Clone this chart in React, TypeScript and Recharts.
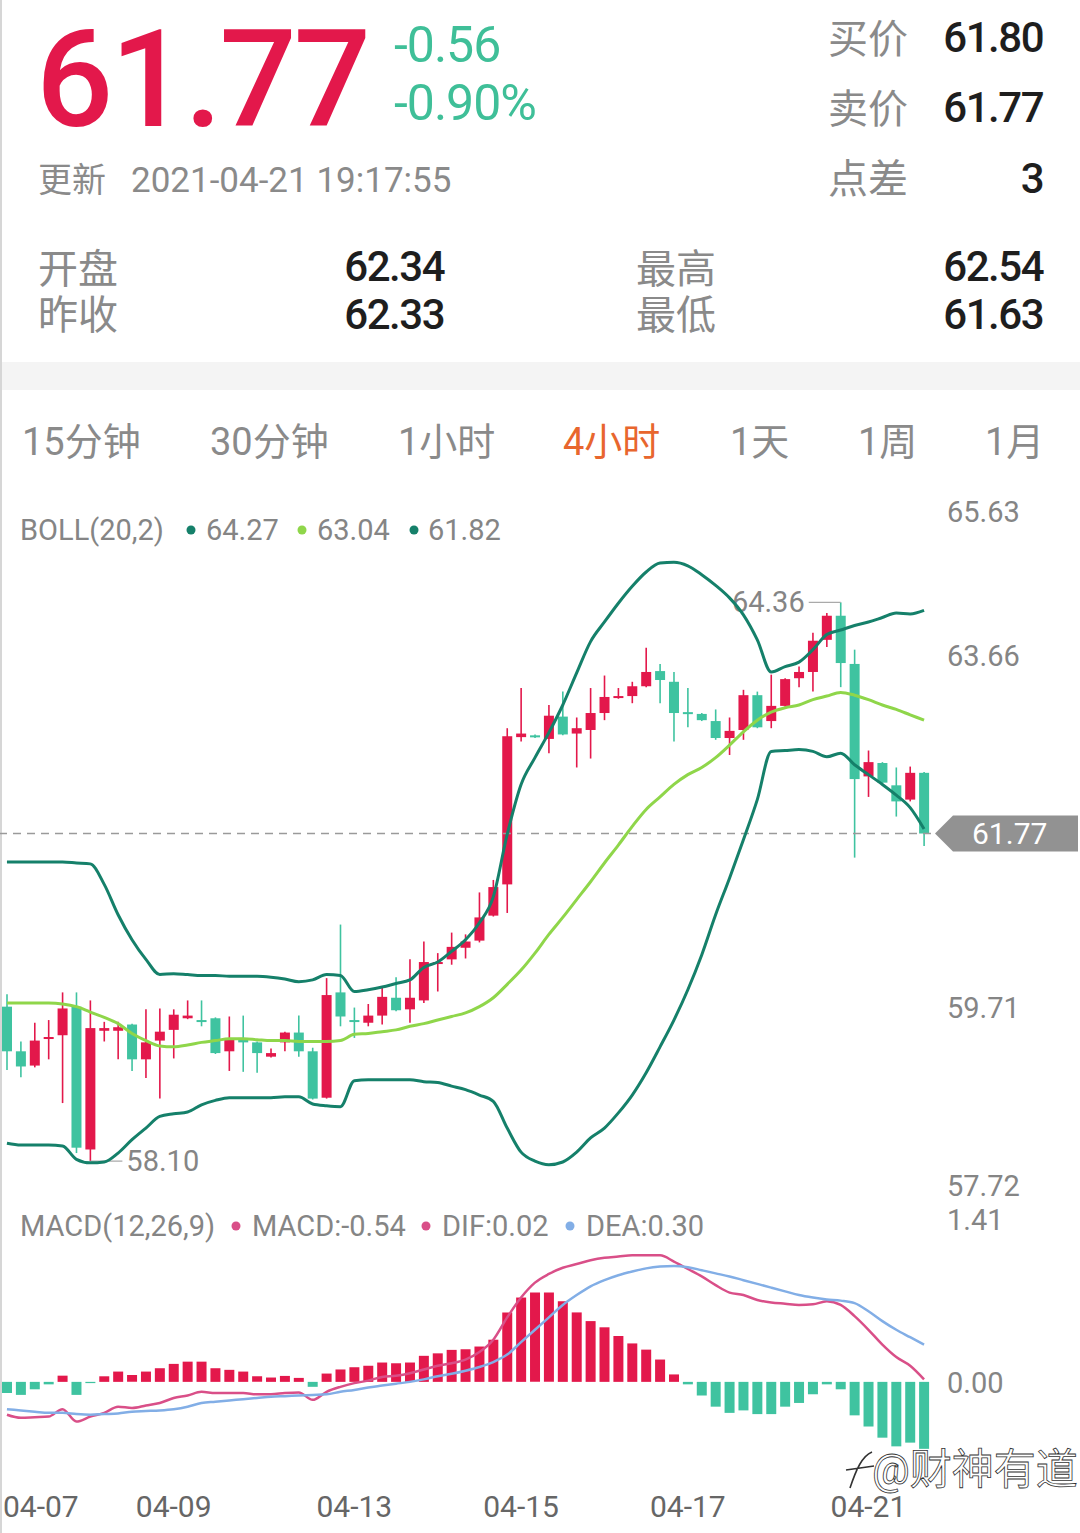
import React from "react";
import {
  ComposedChart,
  Bar,
  Line,
  XAxis,
  YAxis,
  ReferenceLine,
  Cell,
} from "recharts";

// 4h candles, 04-07 .. 04-21
const opens = [59.83, 59.33, 59.17, 59.47, 59.51, 59.83, 58.23, 59.56, 59.56, 59.63, 59.24, 59.45, 59.57, 59.7, 59.68, 59.7, 59.33, 59.48, 59.43, 59.27, 59.43, 59.54, 59.33, 58.81, 59.99, 59.68, 59.65, 59.73, 59.93, 59.8, 59.9, 60.32, 60.36, 60.49, 60.57, 60.85, 61.2, 62.85, 62.87, 62.83, 63.08, 62.89, 62.93, 63.12, 63.29, 63.31, 63.42, 63.59, 63.47, 63.13, 63.11, 63.03, 62.84, 62.93, 63.32, 63.03, 63.2, 63.51, 63.58, 63.94, 64.21, 63.67, 62.41, 62.56, 62.31, 62.15, 62.45];
const highs = [59.97, 59.44, 59.65, 59.68, 59.99, 59.99, 59.9, 59.66, 59.66, 59.64, 59.8, 59.81, 59.8, 59.9, 59.9, 59.71, 59.72, 59.73, 59.44, 59.36, 59.55, 59.73, 59.37, 60.15, 60.75, 59.82, 59.86, 60.04, 60.16, 60.36, 60.56, 60.43, 60.66, 60.64, 61.11, 61.25, 62.95, 63.4, 62.88, 63.21, 63.36, 63.07, 63.4, 63.54, 63.4, 63.47, 63.85, 63.67, 63.58, 63.4, 63.12, 63.16, 63.07, 63.38, 63.36, 63.55, 63.51, 63.64, 64.02, 64.24, 64.36, 63.83, 62.7, 62.57, 62.51, 62.52, 62.46];
const lows = [59.12, 59.04, 59.15, 59.24, 58.75, 58.19, 58.1, 59.44, 59.24, 59.11, 59.03, 58.8, 59.25, 59.69, 59.61, 59.3, 59.11, 59.1, 59.09, 59.26, 59.33, 59.27, 58.79, 58.8, 59.61, 59.48, 59.61, 59.63, 59.78, 59.65, 59.87, 60.0, 60.3, 60.37, 60.55, 60.84, 60.88, 62.8, 62.84, 62.67, 62.87, 62.51, 62.61, 63.04, 63.28, 63.23, 63.41, 63.23, 62.8, 62.96, 63.03, 62.82, 62.65, 62.82, 62.95, 62.95, 63.19, 63.41, 63.36, 63.86, 63.41, 61.5, 62.18, 62.33, 61.96, 62.13, 61.63];
const closes = [59.33, 59.16, 59.45, 59.49, 59.81, 58.25, 59.59, 59.59, 59.6, 59.24, 59.43, 59.55, 59.74, 59.73, 59.66, 59.31, 59.47, 59.43, 59.31, 59.31, 59.54, 59.33, 58.8, 59.96, 59.72, 59.66, 59.73, 59.94, 59.79, 59.93, 60.33, 60.33, 60.5, 60.56, 60.83, 61.17, 62.86, 62.89, 62.85, 63.09, 62.88, 62.95, 63.12, 63.3, 63.31, 63.42, 63.58, 63.49, 63.12, 63.11, 63.04, 62.84, 62.92, 63.32, 62.96, 63.2, 63.5, 63.58, 63.93, 64.21, 63.68, 62.38, 62.57, 62.34, 62.13, 62.45, 61.77];

// BOLL(20,2)
const bollUpper = [61.45, 61.45, 61.45, 61.45, 61.45, 61.44, 61.43, 61.2, 60.86, 60.58, 60.36, 60.19, 60.2, 60.19, 60.18, 60.18, 60.17, 60.17, 60.17, 60.16, 60.14, 60.11, 60.13, 60.19, 60.18, 60.0, 60.02, 60.05, 60.09, 60.13, 60.27, 60.33, 60.45, 60.58, 60.77, 61.06, 61.76, 62.32, 62.62, 62.9, 63.21, 63.57, 63.92, 64.14, 64.35, 64.54, 64.7, 64.8, 64.81, 64.77, 64.67, 64.55, 64.41, 64.22, 63.94, 63.58, 63.64, 63.69, 63.83, 64.0, 64.05, 64.1, 64.14, 64.19, 64.24, 64.23, 64.27];
const bollMid = [59.87, 59.87, 59.87, 59.87, 59.86, 59.83, 59.77, 59.71, 59.64, 59.53, 59.45, 59.39, 59.38, 59.4, 59.43, 59.45, 59.47, 59.47, 59.46, 59.45, 59.45, 59.44, 59.44, 59.44, 59.45, 59.52, 59.53, 59.55, 59.57, 59.61, 59.64, 59.68, 59.72, 59.76, 59.83, 59.93, 60.08, 60.24, 60.43, 60.64, 60.83, 61.03, 61.23, 61.44, 61.64, 61.85, 62.04, 62.18, 62.32, 62.43, 62.51, 62.62, 62.76, 62.91, 63.04, 63.13, 63.18, 63.21, 63.27, 63.31, 63.35, 63.32, 63.27, 63.21, 63.16, 63.1, 63.04];
const bollLower = [58.3, 58.28, 58.28, 58.28, 58.27, 58.12, 58.08, 58.09, 58.19, 58.34, 58.47, 58.6, 58.63, 58.65, 58.73, 58.78, 58.81, 58.81, 58.81, 58.81, 58.82, 58.82, 58.74, 58.72, 58.71, 59.0, 59.01, 59.01, 59.01, 59.01, 58.99, 58.98, 58.94, 58.9, 58.84, 58.77, 58.47, 58.2, 58.1, 58.06, 58.09, 58.2, 58.36, 58.47, 58.64, 58.84, 59.09, 59.38, 59.68, 60.02, 60.41, 60.86, 61.27, 61.7, 62.15, 62.69, 62.7, 62.71, 62.69, 62.63, 62.67, 62.54, 62.43, 62.32, 62.2, 62.06, 61.82];

// MACD(12,26,9)
const macdHist = [-0.09, -0.105, -0.06, -0.02, 0.05, -0.105, -0.01, 0.045, 0.083, 0.055, 0.083, 0.11, 0.145, 0.163, 0.163, 0.11, 0.097, 0.083, 0.045, 0.035, 0.048, 0.032, -0.04, 0.067, 0.1, 0.118, 0.13, 0.156, 0.15, 0.156, 0.21, 0.23, 0.258, 0.263, 0.285, 0.34, 0.56, 0.68, 0.72, 0.72, 0.65, 0.56, 0.49, 0.44, 0.37, 0.31, 0.26, 0.18, 0.06, -0.02, -0.11, -0.2, -0.25, -0.23, -0.26, -0.26, -0.2, -0.17, -0.1, -0.02, -0.06, -0.27, -0.36, -0.45, -0.52, -0.49, -0.54];
const difLine = [-0.265, -0.29, -0.285, -0.28, -0.22, -0.32, -0.28, -0.25, -0.2, -0.21, -0.19, -0.17, -0.13, -0.11, -0.08, -0.09, -0.09, -0.09, -0.1, -0.1, -0.09, -0.085, -0.145, -0.08, -0.04, -0.01, 0.01, 0.04, 0.05, 0.07, 0.1, 0.13, 0.15, 0.18, 0.24, 0.34, 0.52, 0.68, 0.8, 0.87, 0.92, 0.95, 0.98, 1.0, 1.01, 1.02, 1.02, 1.02, 0.97, 0.91, 0.85, 0.78, 0.72, 0.7, 0.66, 0.64, 0.63, 0.62, 0.625, 0.65, 0.62, 0.53, 0.42, 0.3, 0.2, 0.13, 0.02];
const deaLine = [-0.22, -0.23, -0.24, -0.25, -0.25, -0.26, -0.265, -0.26, -0.255, -0.24, -0.235, -0.23, -0.22, -0.2, -0.17, -0.16, -0.15, -0.14, -0.13, -0.12, -0.115, -0.11, -0.105, -0.1, -0.08, -0.065, -0.045, -0.03, -0.015, 0.0, 0.02, 0.045, 0.065, 0.09, 0.12, 0.16, 0.22, 0.32, 0.42, 0.52, 0.62, 0.7, 0.77, 0.82, 0.86, 0.89, 0.915, 0.93, 0.935, 0.925, 0.9, 0.875, 0.85, 0.82, 0.79, 0.76, 0.73, 0.7, 0.68, 0.665, 0.655, 0.635, 0.57, 0.49, 0.42, 0.36, 0.3];

const dateTicks: Record<number, string> = { 0: "04-07", 12: "04-09", 25: "04-13", 37: "04-15", 49: "04-17", 62: "04-21" };
const priceTicks = [65.63, 63.66, 59.71, 57.72];
const macdTicks = [1.41, 0];
const lastPrice = 61.77;

const RED = "#e3184b";
const GREEN = "#3fc3a0";
const BAND = "#15806a";
const MID = "#8fd64a";
const DIF_C = "#d94f88";
const DEA_C = "#82aee6";
const GRAY = "#858585";
const FONT = "Roboto, 'Noto Sans CJK SC', sans-serif";

const data = opens.map((o, i) => ({
  idx: i,
  open: o,
  high: highs[i],
  low: lows[i],
  close: closes[i],
  upper: bollUpper[i],
  mid: bollMid[i],
  lower: bollLower[i],
  macd: macdHist[i],
  dif: difLine[i],
  dea: deaLine[i],
}));

const maxHigh = Math.max(...highs);
const minLow = Math.min(...lows);

function Candle(props: any) {
  const { x, y, width, height, payload } = props;
  const { open, close, high, low } = payload;
  const color = close >= open ? RED : GREEN;
  const top = Math.min(y, y + height);
  const h = Math.abs(height);
  const k = h / (high - low || 1);
  const cx = x + width / 2;
  const bodyTop = top + (high - Math.max(open, close)) * k;
  const bodyH = Math.max(Math.abs(open - close) * k, 2);
  return (
    <g>
      <line x1={cx} x2={cx} y1={top} y2={top + h} stroke={color} strokeWidth={1.6} />
      <rect x={x} y={bodyTop} width={width} height={bodyH} fill={color} />
      {high === maxHigh && (
        <g>
          <line x1={cx - 32} x2={cx} y1={top} y2={top} stroke="#aaa" strokeWidth={1.2} />
          <text x={cx - 36} y={top + 10} textAnchor="end" fontSize={29} fill={GRAY} fontFamily={FONT}>
            {high.toFixed(2)}
          </text>
        </g>
      )}
      {low === minLow && (
        <g>
          <line x1={cx} x2={cx + 32} y1={top + h} y2={top + h} stroke="#aaa" strokeWidth={1.2} />
          <text x={cx + 36} y={top + h + 10} textAnchor="start" fontSize={29} fill={GRAY} fontFamily={FONT}>
            {low.toFixed(2)}
          </text>
        </g>
      )}
    </g>
  );
}

function PriceTick(props: any) {
  const { y, payload } = props;
  const dy = payload.value === priceTicks[0] ? 33 : 1;
  return (
    <text x={947} y={y + dy} fontSize={29} fill={GRAY} fontFamily={FONT}>
      {Number(payload.value).toFixed(2)}
    </text>
  );
}

function MacdTick(props: any) {
  const { y, payload } = props;
  const dy = payload.value === macdTicks[0] ? 23 : 11;
  return (
    <text x={947} y={y + dy} fontSize={29} fill={GRAY} fontFamily={FONT}>
      {Number(payload.value).toFixed(2)}
    </text>
  );
}

function DateTick(props: any) {
  const { x, payload } = props;
  const label = dateTicks[payload.value];
  if (!label) return <g />;
  const first = payload.value === 0;
  return (
    <text x={first ? x - 4 : x} y={327} textAnchor={first ? "start" : "middle"} fontSize={30} fill="#666" fontFamily={FONT}>
      {label}
    </text>
  );
}

function PriceTag(props: any) {
  const vb = props.viewBox || {};
  const y = vb.y;
  const x0 = (vb.x || 0) + (vb.width || 0) + 4;
  const x1 = 1078;
  return (
    <g>
      <path d={`M${x0},${y} L${x0 + 18},${y - 18} L${x1},${y - 18} L${x1},${y + 18} L${x0 + 18},${y + 18} Z`} fill="#929292" />
      <text x={x0 + 37} y={y + 10} fontSize={30} fill="#fff" fontFamily={FONT}>
        {lastPrice.toFixed(2)}
      </text>
    </g>
  );
}

function Header() {
  const label = { fontSize: 40, fill: "#8a8a8a", fontFamily: FONT } as const;
  const val = { fontSize: 42, fill: "#1e1e1e", fontFamily: FONT, fontWeight: 500, letterSpacing: -1.5 } as const;
  const tabs = [
    ["15分钟", 22],
    ["30分钟", 210],
    ["1小时", 398],
    ["4小时", 563],
    ["1天", 730],
    ["1周", 858],
    ["1月", 985],
  ] as const;
  return (
    <svg width={1080} height={1533} style={{ position: "absolute", left: 0, top: 0 }}>
      <text x={36} y={126} fontSize={136} fill={RED} fontFamily={FONT} fontWeight={500} letterSpacing={-3}>61.77</text>
      <text x={394} y={62} fontSize={50} fill="#3fbf98" fontFamily={FONT} letterSpacing={-1}>-0.56</text>
      <text x={394} y={120} fontSize={50} fill="#3fbf98" fontFamily={FONT} letterSpacing={-1}>-0.90%</text>
      <text x={38} y={192} fontSize={34} fill="#8a8a8a" fontFamily={FONT}>更新</text>
      <text x={131} y={192} fontSize={35} fill="#8a8a8a" fontFamily={FONT}>2021-04-21 19:17:55</text>

      <text x={828} y={53} {...label}>买价</text>
      <text x={828} y={123} {...label}>卖价</text>
      <text x={828} y={193} {...label}>点差</text>
      <text x={1043} y={52} textAnchor="end" {...val}>61.80</text>
      <text x={1043} y={122} textAnchor="end" {...val}>61.77</text>
      <text x={1043} y={193} textAnchor="end" {...val}>3</text>

      <text x={38} y={283} {...label}>开盘</text>
      <text x={38} y={329} {...label}>昨收</text>
      <text x={444} y={281} textAnchor="end" {...val}>62.34</text>
      <text x={444} y={329} textAnchor="end" {...val}>62.33</text>
      <text x={636} y={283} {...label}>最高</text>
      <text x={636} y={329} {...label}>最低</text>
      <text x={1043} y={281} textAnchor="end" {...val}>62.54</text>
      <text x={1043} y={329} textAnchor="end" {...val}>61.63</text>

      <rect x={0} y={362} width={1080} height={28} fill="#f4f4f4" />
      {tabs.map(([t, x]) => (
        <text key={t} x={x} y={455} fontSize={38} fill={t === "4小时" ? "#e8662e" : "#8a8a8a"} fontFamily={FONT}>
          {t}
        </text>
      ))}

      <g fontSize={29} fill={GRAY} fontFamily={FONT}>
        <text x={20} y={540}>BOLL(20,2)</text>
        <circle cx={191} cy={530} r={4.5} fill={BAND} />
        <text x={206} y={540}>{bollUpper[bollUpper.length - 1].toFixed(2)}</text>
        <circle cx={302} cy={530} r={4.5} fill={MID} />
        <text x={317} y={540}>{bollMid[bollMid.length - 1].toFixed(2)}</text>
        <circle cx={414} cy={530} r={4.5} fill={BAND} />
        <text x={428} y={540}>{bollLower[bollLower.length - 1].toFixed(2)}</text>

        <text x={20} y={1236}>MACD(12,26,9)</text>
        <circle cx={236} cy={1226} r={4.5} fill={DIF_C} />
        <text x={252} y={1236}>MACD:{macdHist[macdHist.length - 1].toFixed(2)}</text>
        <circle cx={426} cy={1226} r={4.5} fill={DIF_C} />
        <text x={442} y={1236}>DIF:{difLine[difLine.length - 1].toFixed(2)}</text>
        <circle cx={570} cy={1226} r={4.5} fill={DEA_C} />
        <text x={586} y={1236}>DEA:{deaLine[deaLine.length - 1].toFixed(2)}</text>
      </g>
    </svg>
  );
}

export default function App() {
  return (
    <div style={{ position: "relative", width: 1080, height: 1533, background: "#fff", overflow: "hidden" }}>
      <style>{"body{margin:0;background:#fff}"}</style>
      <Header />
      <div style={{ position: "absolute", left: 0, top: 0, width: 2, height: 1533, background: "#d6d6d6" }} />

      <div style={{ position: "absolute", left: 0, top: 489 }}>
        <ComposedChart width={1080} height={720} data={data} margin={{ top: 0, right: 0, left: 0, bottom: 14 }}>
          <XAxis dataKey="idx" hide />
          <YAxis
            orientation="right"
            width={149}
            domain={[57.72, 65.63]}
            ticks={priceTicks}
            interval={0}
            allowDataOverflow
            axisLine={false}
            tickLine={false}
            tick={<PriceTick />}
          />
          <ReferenceLine y={lastPrice} stroke="#9a9a9a" strokeWidth={1.5} strokeDasharray="8 6" label={<PriceTag />} />
          <Line type="monotone" dataKey="upper" stroke={BAND} strokeWidth={3} dot={false} isAnimationActive={false} />
          <Line type="monotone" dataKey="lower" stroke={BAND} strokeWidth={3} dot={false} isAnimationActive={false} />
          <Line type="monotone" dataKey="mid" stroke={MID} strokeWidth={3} dot={false} isAnimationActive={false} />
          <Bar dataKey={(d: any) => [d.low, d.high]} barSize={10} shape={<Candle />} isAnimationActive={false} />
        </ComposedChart>
      </div>

      <div style={{ position: "absolute", left: 0, top: 1190 }}>
        <ComposedChart width={1080} height={340} data={data} margin={{ top: 17, right: 0, left: 0, bottom: 0 }}>
          <XAxis dataKey="idx" height={70} interval={0} axisLine={false} tickLine={false} tick={<DateTick />} />
          <YAxis
            orientation="right"
            width={149}
            domain={[-0.63, 1.41]}
            ticks={macdTicks}
            interval={0}
            allowDataOverflow
            axisLine={false}
            tickLine={false}
            tick={<MacdTick />}
          />
          <Bar dataKey="macd" barSize={10} isAnimationActive={false}>
            {data.map((d) => (
              <Cell key={d.idx} fill={d.macd >= 0 ? RED : GREEN} />
            ))}
          </Bar>
          <Line type="monotone" dataKey="dif" stroke={DIF_C} strokeWidth={2.5} dot={false} isAnimationActive={false} />
          <Line type="monotone" dataKey="dea" stroke={DEA_C} strokeWidth={2.5} dot={false} isAnimationActive={false} />
        </ComposedChart>
      </div>

      <svg width={1080} height={1533} style={{ position: "absolute", left: 0, top: 0, pointerEvents: "none" }}>
        <path d="M850,1488 C856,1470 862,1456 872,1452 M846,1470 L874,1466" stroke="#333" strokeWidth={1.6} fill="none" />
        <text x={872} y={1484} fontSize={42} fill="#fff" stroke="#333" strokeWidth={0.8} fontFamily={FONT}>
          @财神有道
        </text>
      </svg>
    </div>
  );
}
